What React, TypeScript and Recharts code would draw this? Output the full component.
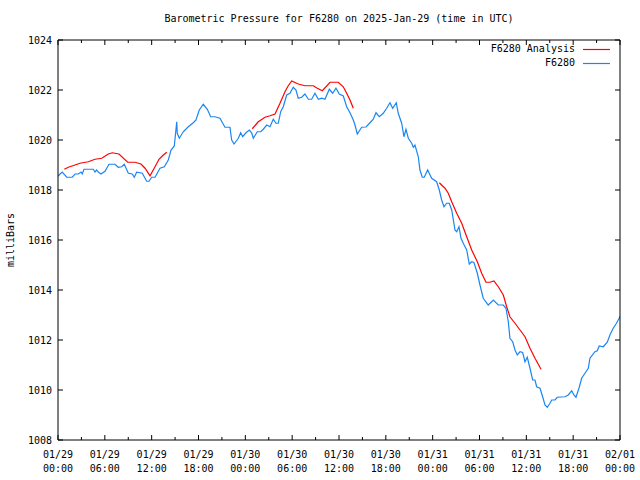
import { LineChart, Line, XAxis, YAxis } from "recharts";

// hours since 2025-01-29 00:00 UTC, pressure in mb
const F6280: [number, number][] = [
  [0, 1018.55], [0.26, 1018.64], [0.55, 1018.72], [1.11, 1018.51], [1.83, 1018.51], [2.18, 1018.64],
  [2.6, 1018.64], [2.95, 1018.72], [3.11, 1018.64], [3.33, 1018.83], [4.52, 1018.83], [4.74, 1018.72],
  [4.96, 1018.8], [5.16, 1018.72], [5.51, 1018.64], [6.02, 1018.75], [6.53, 1019.03], [7.3, 1019.03],
  [7.72, 1018.91], [8.16, 1018.93], [8.49, 1019.03], [9.01, 1018.67], [9.52, 1018.64], [9.77, 1018.51],
  [10.08, 1018.71], [10.8, 1018.67], [11.36, 1018.35], [11.66, 1018.35], [12.0, 1018.51], [12.43, 1018.51],
  [13.07, 1018.87], [13.62, 1018.93], [14.13, 1019.2], [14.48, 1019.6], [14.9, 1019.76], [15.21, 1020.73],
  [15.28, 1020.27], [15.54, 1020.07], [16.05, 1020.33], [16.69, 1020.53], [17.33, 1020.69], [17.68, 1020.8],
  [18.1, 1021.2], [18.61, 1021.43], [19.13, 1021.23], [19.56, 1020.93], [20.11, 1020.93], [20.75, 1020.87],
  [21.39, 1020.51], [22.03, 1020.51], [22.25, 1020.0], [22.55, 1019.84], [23.1, 1020.07], [23.41, 1020.29],
  [23.66, 1020.13], [24.08, 1020.29], [24.51, 1020.4], [24.81, 1020.29], [25.02, 1020.07], [25.53, 1020.33],
  [25.97, 1020.33], [26.3, 1020.43], [26.74, 1020.6], [27.16, 1020.53], [27.58, 1020.83], [27.93, 1020.67],
  [28.22, 1020.67], [28.53, 1021.13], [28.86, 1021.33], [29.3, 1021.8], [29.72, 1021.87], [30.14, 1022.11],
  [30.49, 1022.0], [30.78, 1021.67], [31.22, 1021.71], [31.64, 1021.84], [32.07, 1021.63], [32.5, 1021.63],
  [32.92, 1021.87], [33.35, 1021.63], [33.78, 1021.67], [34.2, 1021.63], [34.76, 1022.03], [35.19, 1021.87],
  [35.61, 1022.07], [36.04, 1021.84], [36.55, 1021.76], [36.98, 1021.33], [37.41, 1021.09], [37.83, 1020.8],
  [38.05, 1020.6], [38.34, 1020.24], [38.91, 1020.51], [39.46, 1020.52], [39.97, 1020.69], [40.39, 1020.83],
  [40.74, 1021.09], [41.16, 1020.93], [41.67, 1021.07], [42.11, 1021.27], [42.53, 1021.49], [42.88, 1021.27],
  [43.34, 1021.49], [43.59, 1021.07], [44.03, 1020.67], [44.32, 1020.13], [44.58, 1020.43], [44.88, 1020.07],
  [45.31, 1019.87], [45.52, 1019.71], [45.73, 1019.8], [46.16, 1019.33], [46.37, 1018.8], [46.67, 1018.51],
  [46.92, 1018.51], [47.36, 1018.8], [47.87, 1018.47], [48.51, 1018.33], [48.85, 1018.0], [49.15, 1017.6],
  [49.45, 1017.33], [49.79, 1017.47], [50.13, 1017.47], [50.44, 1017.2], [50.86, 1016.4], [51.08, 1016.33],
  [51.37, 1016.53], [51.63, 1016.07], [51.92, 1015.87], [52.36, 1015.6], [52.69, 1015.04], [53.0, 1015.13],
  [53.29, 1015.1], [53.72, 1014.67], [54.06, 1014.2], [54.48, 1013.67], [55.12, 1013.4], [55.77, 1013.6],
  [56.41, 1013.4], [57.05, 1013.4], [57.39, 1013.27], [57.69, 1012.73], [57.9, 1012.07], [58.25, 1011.93],
  [58.55, 1011.6], [58.84, 1011.4], [59.19, 1011.53], [59.53, 1011.5], [59.83, 1011.13], [60.12, 1011.31],
  [60.47, 1010.87], [60.81, 1010.4], [61.11, 1010.4], [61.32, 1010.13], [61.75, 1010.07], [62.09, 1009.73],
  [62.39, 1009.4], [62.68, 1009.31], [63.03, 1009.47], [63.25, 1009.6], [63.67, 1009.6], [63.96, 1009.71],
  [64.95, 1009.73], [65.37, 1009.8], [65.81, 1009.97], [66.1, 1009.8], [66.36, 1009.71], [66.78, 1010.11],
  [67.09, 1010.47], [67.51, 1010.67], [67.94, 1010.87], [68.15, 1011.27], [68.79, 1011.53], [69.09, 1011.57],
  [69.34, 1011.76], [69.86, 1011.73], [70.37, 1011.91], [70.71, 1012.2], [71.13, 1012.47], [71.55, 1012.67],
  [71.89, 1012.87], [72, 1012.95],
];

// analysis runs, three separate segments
const ANALYSIS_1: [number, number][] = [
  [0.81, 1018.83], [1.32, 1018.91], [2.18, 1019.0], [2.82, 1019.07], [3.88, 1019.13], [4.74, 1019.23],
  [5.6, 1019.27], [6.44, 1019.44], [6.96, 1019.49], [7.81, 1019.44], [8.93, 1019.11], [9.86, 1019.11],
  [10.63, 1019.04], [11.15, 1018.87], [11.79, 1018.57], [12.43, 1018.93], [12.94, 1019.23], [13.49, 1019.4],
  [13.93, 1019.51],
];
const ANALYSIS_2: [number, number][] = [
  [24.89, 1020.45], [25.66, 1020.73], [26.52, 1020.91], [27.16, 1020.97], [27.8, 1021.04], [28.44, 1021.47],
  [29.08, 1021.93], [29.46, 1022.15], [29.94, 1022.36], [30.78, 1022.24], [31.64, 1022.17], [32.71, 1022.17],
  [33.22, 1022.07], [33.86, 1021.97], [34.85, 1022.31], [35.91, 1022.31], [36.55, 1022.13], [36.98, 1021.87],
  [37.41, 1021.6], [37.83, 1021.27],
];
const ANALYSIS_3: [number, number][] = [
  [48.85, 1018.29], [49.58, 1018.07], [50.0, 1017.87], [50.44, 1017.53], [51.08, 1017.07], [51.72, 1016.67],
  [52.36, 1016.13], [53.0, 1015.6], [53.72, 1015.13], [54.28, 1014.67], [54.83, 1014.31], [55.34, 1014.31],
  [55.85, 1014.36], [56.41, 1014.13], [57.05, 1013.8], [57.48, 1013.33], [57.9, 1012.93], [58.55, 1012.67],
  [59.19, 1012.4], [59.83, 1012.13], [60.47, 1011.67], [61.11, 1011.27], [61.88, 1010.83],
];

const X_TICKS = [0, 3, 6, 9, 12, 15, 18, 21, 24, 27, 30, 33, 36, 39, 42, 45, 48, 51, 54, 57, 60, 63, 66, 69, 72];
const X_LABELS: Record<number, [string, string]> = {
  0: ["01/29", "00:00"], 6: ["01/29", "06:00"], 12: ["01/29", "12:00"], 18: ["01/29", "18:00"],
  24: ["01/30", "00:00"], 30: ["01/30", "06:00"], 36: ["01/30", "12:00"], 42: ["01/30", "18:00"],
  48: ["01/31", "00:00"], 54: ["01/31", "06:00"], 60: ["01/31", "12:00"], 66: ["01/31", "18:00"],
  72: ["02/01", "00:00"],
};
const Y_TICKS = [1008, 1010, 1012, 1014, 1016, 1018, 1020, 1022, 1024];
const SERIES_NAMES = ["F6280 Analysis", "F6280"];

const FONT = "'DejaVu Sans Mono', monospace";
const BLUE = "#1a86f2";
const RED = "#ff0000";

const toRows = (pts: [number, number][]) => pts.map(([h, p]) => ({ h, p }));
const blueData = toRows(F6280);
const redData = [
  ...toRows(ANALYSIS_1),
  { h: 19, p: null },
  ...toRows(ANALYSIS_2),
  { h: 43, p: null },
  ...toRows(ANALYSIS_3),
];

// gnuplot style ticks: pointing into the plot, minor every 3h
const BottomTick = (props: any) => {
  const { x, y, payload } = props;
  const lab = X_LABELS[payload.value];
  return (
    <g>
      <line x1={x} x2={x} y1={y} y2={y - (lab ? 5 : 3)} stroke="#000" />
      {lab && (
        <text x={x} y={y} textAnchor="middle" fontFamily={FONT} fontSize={10} fill="#000">
          <tspan x={x} dy={18}>{lab[0]}</tspan>
          <tspan x={x} dy={14}>{lab[1]}</tspan>
        </text>
      )}
    </g>
  );
};
const TopTick = (props: any) => {
  const { x, y, payload } = props;
  const major = !!X_LABELS[payload.value];
  return <line x1={x} x2={x} y1={y} y2={y + (major ? 5 : 3)} stroke="#000" />;
};
const LeftTick = (props: any) => {
  const { x, y, payload } = props;
  return (
    <g>
      <line x1={x} x2={x + 5} y1={y} y2={y} stroke="#000" />
      <text x={x - 6} y={y} dy={3.5} textAnchor="end" fontFamily={FONT} fontSize={10} fill="#000">
        {payload.value}
      </text>
    </g>
  );
};
const RightTick = (props: any) => {
  const { x, y } = props;
  return <line x1={x} x2={x - 5} y1={y} y2={y} stroke="#000" />;
};

const YLabel = (props: any) => {
  const vb = props.viewBox;
  const cy = vb.y + vb.height / 2;
  return (
    <text x={10} y={cy} dy={3.5} transform={`rotate(-90, 10, ${cy})`} textAnchor="middle" fontFamily={FONT} fontSize={10} fill="#000">
      milliBars
    </text>
  );
};

export default function App() {
  const colors = [RED, BLUE];
  return (
    <div style={{ position: "absolute", left: 0, top: 0, width: 640, height: 480, background: "#fff" }}>
      <div
        style={{
          position: "absolute", left: 58, width: 562, top: 12, textAlign: "center",
          fontFamily: FONT, fontSize: 10, lineHeight: "14px", color: "#000",
        }}
      >
        Barometric Pressure for F6280 on 2025-Jan-29 (time in UTC)
      </div>
      <LineChart width={640} height={480} margin={{ top: 39, right: 19, bottom: 0, left: 0 }}>
        <XAxis
          dataKey="h"
          type="number"
          domain={[0, 72]}
          ticks={X_TICKS}
          interval={0}
          height={40}
          tickSize={0}
          tickMargin={0}
          tick={<BottomTick />}
          axisLine={{ stroke: "#000" }}
          allowDataOverflow
        />
        <XAxis
          xAxisId="top"
          orientation="top"
          dataKey="h"
          type="number"
          domain={[0, 72]}
          ticks={X_TICKS}
          interval={0}
          height={1}
          tickSize={0}
          tickMargin={0}
          tick={<TopTick />}
          axisLine={{ stroke: "#000" }}
          allowDataOverflow
        />
        <YAxis
          type="number"
          domain={[1008, 1024]}
          ticks={Y_TICKS}
          interval={0}
          width={58}
          tickSize={0}
          tickMargin={0}
          tick={<LeftTick />}
          axisLine={{ stroke: "#000" }}
          label={<YLabel />}
          allowDataOverflow
        />
        <YAxis
          yAxisId="right"
          orientation="right"
          type="number"
          domain={[1008, 1024]}
          ticks={Y_TICKS}
          interval={0}
          width={1}
          tickSize={0}
          tickMargin={0}
          tick={<RightTick />}
          axisLine={{ stroke: "#000" }}
          allowDataOverflow
        />
        <Line data={redData} dataKey="p" stroke={RED} strokeWidth={1.2} dot={false} connectNulls={false} isAnimationActive={false} />
        <Line data={blueData} dataKey="p" stroke={BLUE} strokeWidth={1.2} dot={false} isAnimationActive={false} />
      </LineChart>
      <div style={{ position: "absolute", left: 440, width: 180, top: 42, fontFamily: FONT, fontSize: 10, lineHeight: "14px", color: "#000" }}>
        {SERIES_NAMES.map((name, i) => (
          <div key={name} style={{ display: "flex", justifyContent: "flex-end", alignItems: "center", height: 14 }}>
            <span>{name}</span>
            <svg width={27} height={14} style={{ marginLeft: 8, marginRight: 10, display: "block" }}>
              <line x1={0} x2={27} y1={7.5} y2={7.5} stroke={colors[i]} strokeWidth={1.2} />
            </svg>
          </div>
        ))}
      </div>
    </div>
  );
}
